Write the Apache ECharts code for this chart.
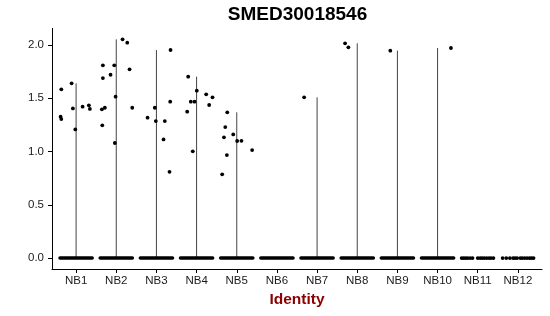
<!DOCTYPE html>
<html>
<head>
<meta charset="utf-8">
<script src="https://cdn.jsdelivr.net/npm/echarts@6/dist/echarts.min.js"></script>
<style>html,body{margin:0;padding:0;background:#fff}#c{width:550px;height:316px}</style>
</head>
<body>
<div id="c"></div>
<script>
// Data
const categories = ['NB1','NB2','NB3','NB4','NB5','NB6','NB7','NB8','NB9','NB10','NB11','NB12'];
const yTicks = [0, 0.5, 1.0, 1.5, 2.0];
// maximum expression per identity (violin extent)
const violinMax = [1.640, 2.053, 1.953, 1.703, 1.368, 0, 1.509, 2.016, 1.947, 1.972, 0, 0];
// groups (1-based) whose zero-valued cells form a dense band
const denseZeroGroups = [1,2,3,4,5,6,7,8,9,10];
// sparse zero-valued cells: group and jitter
const sparseZeroGroup  = [11,11,11,11,11,11,11,11,11,11,11,11,11,11, 12,12,12,12,12,12,12,12,12,12,12,12,12];
const sparseZeroJitter = [-0.40,-0.35,-0.30,-0.25,-0.19,-0.13,0.0,0.06,0.11,0.16,0.22,0.28,0.33,0.39,
                          -0.38,-0.29,-0.20,-0.12,-0.07,-0.02,0.06,0.11,0.17,0.23,0.29,0.34,0.39];
// non-zero cells: group, jitter offset, value
const pointGroup = [1,1,1,1,1,1,1,1,1,
  2,2,2,2,2,2,2,2,2,2,2,2,2,
  3,3,3,3,3,3,3,3,
  4,4,4,4,4,4,4,4,4,
  5,5,5,5,5,5,5,5,5,
  7,8,8,9,10];
const pointJitter = [-0.368,-0.386,-0.368,-0.112,-0.080,-0.020,0.162,0.318,0.343,
  -0.333,-0.333,-0.358,-0.284,-0.348,-0.142,-0.050,-0.017,-0.035,0.157,0.274,0.331,0.398,
  -0.221,-0.040,-0.015,0.209,0.177,0.343,0.351,0.326,
  -0.209,-0.234,-0.144,-0.052,0.005,-0.095,0.239,0.396,0.313,
  -0.236,-0.286,-0.318,-0.087,0.010,0.117,-0.246,0.383,-0.363,
  -0.323,-0.303,-0.221,-0.177,0.333];
const pointValue = [1.584,1.327,1.305,1.640,1.405,1.208,1.421,1.434,1.400,
  1.809,1.690,1.396,1.411,1.246,1.721,1.809,1.515,1.080,2.053,2.022,1.772,1.411,
  1.318,1.411,1.286,1.286,1.114,1.468,1.953,0.810,
  1.703,1.374,1.468,1.468,1.571,1.002,1.537,1.509,1.437,
  1.368,1.230,1.133,1.161,1.099,1.101,0.967,1.014,0.786,
  1.509,2.016,1.978,1.947,1.972];

const font = 'Liberation Sans, Arial, Helvetica, sans-serif';
const violinData = violinMax.map((m, i) => [i + 1, m]).filter(d => d[1] > 0);
const scatterData = pointGroup.map((g, i) => [g + pointJitter[i], pointValue[i]])
  .concat(sparseZeroGroup.map((g, i) => [g + sparseZeroJitter[i], 0]));
const catTicks = categories.map((c, i) => i + 1);

const chart = echarts.init(document.getElementById('c'), null, {renderer: 'canvas'});
chart.setOption({
  animation: false,
  backgroundColor: '#fff',
  title: {
    text: 'SMED30018546',
    left: 297.5, top: 5, padding: 0, textAlign: 'center',
    textStyle: {fontFamily: font, fontWeight: 'bold', fontSize: 19, color: '#000'}
  },
  grid: {left: 52, right: 8, top: 28.4, bottom: 47},
  xAxis: {
    type: 'value', min: 0.4, max: 12.6,
    name: 'Identity', nameLocation: 'middle', nameGap: 20,
    nameTextStyle: {fontFamily: font, fontWeight: 'bold', fontSize: 15.5, color: '#8B0000'},
    axisLine: {show: true, onZero: false, lineStyle: {color: '#000', width: 1}},
    axisTick: {show: true, length: 4, customValues: catTicks, lineStyle: {color: '#000'}},
    axisLabel: {customValues: catTicks, margin: 6, fontFamily: font, fontSize: 11.5, color: '#1a1a1a',
      formatter: v => categories[Math.round(v) - 1]},
    splitLine: {show: false}
  },
  yAxis: {
    type: 'value', min: -0.1027, max: 2.156,
    axisLine: {show: true, onZero: false, lineStyle: {color: '#000', width: 1}},
    axisTick: {show: true, length: 4, customValues: yTicks, lineStyle: {color: '#000'}},
    axisLabel: {customValues: yTicks, margin: 8, fontFamily: font, fontSize: 11.5, color: '#1a1a1a',
      formatter: v => v.toFixed(1)},
    splitLine: {show: false}
  },
  series: [
    {
      type: 'custom', data: violinData, z: 1,
      renderItem: (params, api) => {
        const x = api.value(0), m = api.value(1);
        const p0 = api.coord([x, 0]), p1 = api.coord([x, m]);
        return {type: 'line', shape: {x1: p0[0], y1: p0[1], x2: p1[0], y2: p1[1]},
          style: {stroke: '#444', lineWidth: 1}};
      }
    },
    {
      type: 'custom', data: denseZeroGroups.map(g => [g, 0]), z: 2,
      renderItem: (params, api) => {
        const x = api.value(0);
        const p0 = api.coord([x - 0.4, 0]), p1 = api.coord([x + 0.4, 0]);
        return {type: 'line', shape: {x1: p0[0], y1: p0[1], x2: p1[0], y2: p1[1]},
          style: {stroke: '#000', lineWidth: 3.6, lineCap: 'round'}};
      }
    },
    {
      type: 'scatter', data: scatterData, symbolSize: 3.8, z: 3,
      itemStyle: {color: '#000', opacity: 1}
    }
  ]
});
</script>
</body>
</html>
